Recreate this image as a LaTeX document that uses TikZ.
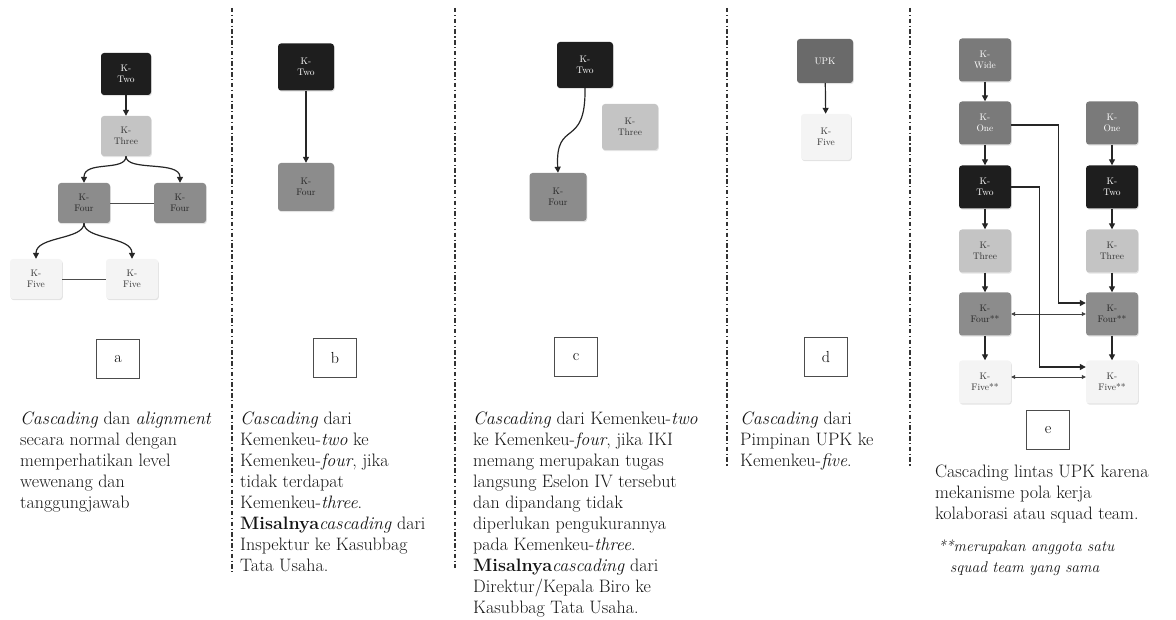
\documentclass[tikz,border=0pt]{standalone}
\usetikzlibrary{arrows.meta,shadows}
\definecolor{kblk}{HTML}{1E1E1E}
\definecolor{kmidc}{HTML}{8C8C8C}
\definecolor{kgryc}{HTML}{7A7A7A}
\definecolor{klgt}{HTML}{C4C4C4}
\definecolor{kwht}{HTML}{F4F4F4}
\definecolor{kupk}{HTML}{6A6A6A}
\definecolor{sepc}{HTML}{333333}
\begin{document}
\begin{tikzpicture}[x=1pt,y=-1pt,
  kbox/.style={rounded corners=3pt, minimum width=52pt, minimum height=43pt, align=center,
    font=\fontsize{9.5}{10.5}\selectfont, inner sep=1pt,
    drop shadow={opacity=0.22, shadow xshift=0.8pt, shadow yshift=-1.2pt}},
  kblack/.style={kbox, fill=kblk, text=white},
  kmid/.style={kbox, fill=kmidc, text=black!85},
  kgray/.style={kbox, fill=kgryc, text=white},
  klight/.style={kbox, fill=klgt, text=black!80},
  kwhite/.style={kbox, fill=kwht, text=black!80},
  kupkbox/.style={kbox, fill=kupk, text=white},
  lbl/.style={draw=black!70, line width=1.1pt, minimum width=43pt, minimum height=39pt,
    inner sep=0pt, font=\fontsize{16}{16}\selectfont},
  txt/.style={anchor=north west, align=left, inner sep=0pt, text=black!92,
    font=\fontsize{18}{21}\selectfont},
  arr/.style={line width=1.2pt, black!85, -{Triangle[length=6pt,width=6pt]}},
  thinarr/.style={line width=0.8pt, black!75, {Triangle[length=4pt,width=4pt]}-{Triangle[length=4pt,width=4pt]}},
  plain/.style={line width=0.8pt, black!70},
  sepline/.style={line width=1.6pt, sepc, dash pattern=on 4.5pt off 2.5pt on 1.2pt off 2.5pt}
]
\useasboundingbox (0,0) rectangle (1176,620);

% separators
\draw[sepline] (232,8) -- (232,572);
\draw[sepline] (455,8) -- (455,568);
\draw[sepline] (727,8) -- (727,468);
\draw[sepline] (910,8) -- (910,468);

% ---------------- panel a
\node[kblack, minimum width=50pt, minimum height=42pt] (a2) at (126,74) {K-\\Two};
\node[klight, minimum width=50pt, minimum height=40pt] (a3) at (126,136) {K-\\Three};
\node[kmid, minimum width=52pt, minimum height=40pt] (a4l) at (84,203) {K-\\Four};
\node[kmid, minimum width=52pt, minimum height=40pt] (a4r) at (180,203) {K-\\Four};
\node[kwhite, minimum width=52pt, minimum height=40pt] (a5l) at (36,279) {K-\\Five};
\node[kwhite, minimum width=52pt, minimum height=40pt] (a5r) at (132,279) {K-\\Five};
\draw[arr] (a2) -- (a3);
\draw[arr] (a3.south) .. controls (126,172) and (84,160) .. (a4l.north);
\draw[arr] (a3.south) .. controls (126,172) and (180,160) .. (a4r.north);
\draw[arr] (a4l.south) .. controls (84,240) and (36,236) .. (a5l.north);
\draw[arr] (a4l.south) .. controls (84,240) and (132,236) .. (a5r.north);
\draw[plain] (a4l.east) -- (a4r.west);
\draw[plain] (a5l.east) -- (a5r.west);
\node[lbl] (la) at (118,359) {a};
\node[txt] (ta) at (20,412) {\textit{Cascading} dan \textit{alignment}\\secara normal dengan\\memperhatikan level\\wewenang dan\\tanggungjawab};

% ---------------- panel b
\node[kblack, minimum width=56pt, minimum height=47pt] (b2) at (306,67) {K-\\Two};
\node[kmid, minimum width=56pt, minimum height=48pt] (b4) at (306,187) {K-\\Four};
\draw[arr] (b2) -- (b4);
\node[lbl] (lb) at (335,358) {b};
\node[txt] (tb) at (240,412) {\textit{Cascading} dari\\Kemenkeu-\textit{two} ke\\Kemenkeu-\textit{four}, jika\\tidak terdapat\\Kemenkeu-\textit{three}.\\\textbf{Misalnya}\textit{cascading} dari\\Inspektur ke Kasubbag\\Tata Usaha.};

% ---------------- panel c
\node[kblack, minimum width=56pt, minimum height=46pt] (c2) at (585,65) {K-\\Two};
\node[klight, minimum width=56pt, minimum height=46pt] (c3) at (630,127) {K-\\Three};
\node[kmid, minimum width=57pt, minimum height=48pt] (c4) at (558,197) {K-\\Four};
\draw[arr] (c2.south) .. controls (586,150) and (555,118) .. (c4.north);
\node[lbl] (lc) at (576,357) {c};
\node[txt] (tc) at (473,412) {\textit{Cascading} dari Kemenkeu-\textit{two}\\ke Kemenkeu-\textit{four}, jika IKI\\memang merupakan tugas\\langsung Eselon IV tersebut\\dan dipandang tidak\\diperlukan pengukurannya\\pada Kemenkeu-\textit{three}.\\\textbf{Misalnya}\textit{cascading} dari\\Direktur/Kepala Biro ke\\Kasubbag Tata Usaha.};

% ---------------- panel d
\node[kupkbox, minimum width=56pt, minimum height=44pt] (dupk) at (825,61) {UPK};
\node[kwhite, minimum width=50pt, minimum height=46pt] (d5) at (826,137) {K-\\Five};
\draw[arr] (dupk) -- (d5);
\node[lbl] (ld) at (826,357) {d};
\node[txt] (td) at (740,412) {\textit{Cascading} dari\\Pimpinan UPK ke\\Kemenkeu-\textit{five}.};

% ---------------- panel e
\begin{scope}[every node/.append style={minimum width=66pt, minimum height=43pt}]
\node[kgray] (ewl) at (985,60) {K-\\Wide};
\node[kgray] (e1l) at (985,123) {K-\\One};
\node[kblack] (e2l) at (985,187) {K-\\Two};
\node[klight] (e3l) at (985,251) {K-\\Three};
\node[kmid] (e4l) at (985,314) {K-\\Four**};
\node[kwhite] (e5l) at (985,382) {K-\\Five**};
\node[kgray] (e1r) at (1112,123) {K-\\One};
\node[kblack] (e2r) at (1112,187) {K-\\Two};
\node[klight] (e3r) at (1112,251) {K-\\Three};
\node[kmid] (e4r) at (1112,314) {K-\\Four**};
\node[kwhite] (e5r) at (1112,382) {K-\\Five**};
\end{scope}
\draw[arr] (ewl) -- (e1l);
\draw[arr] (e1l) -- (e2l);
\draw[arr] (e2l) -- (e3l);
\draw[arr] (e3l) -- (e4l);
\draw[arr] (e4l) -- (e5l);
\draw[arr] (e1r) -- (e2r);
\draw[arr] (e2r) -- (e3r);
\draw[arr] (e3r) -- (e4r);
\draw[arr] (e4r) -- (e5r);
\draw[thinarr] (e4l.east) -- (e4r.west);
\draw[thinarr] ([yshift=5pt]e5l.east) -- ([yshift=5pt]e5r.west);
\draw[arr] ([yshift=-2pt]e1l.east) -- ++(47,0) |- ([yshift=11pt]e4r.west);
\draw[arr] (e2l.east) -- ++(28,0) |- ([yshift=15pt]e5r.west);
\node[lbl] (le) at (1048,430) {e};
\node[txt] (te) at (935,465) {Cascading lintas UPK karena\\mekanisme pola kerja\\kolaborasi atau squad team.};
\node[txt, font=\fontsize{15.5}{21}\selectfont\itshape] (tf) at (938,540) {**merupakan anggota satu\\\hspace*{12pt}squad team yang sama};
\end{tikzpicture}
\end{document}
